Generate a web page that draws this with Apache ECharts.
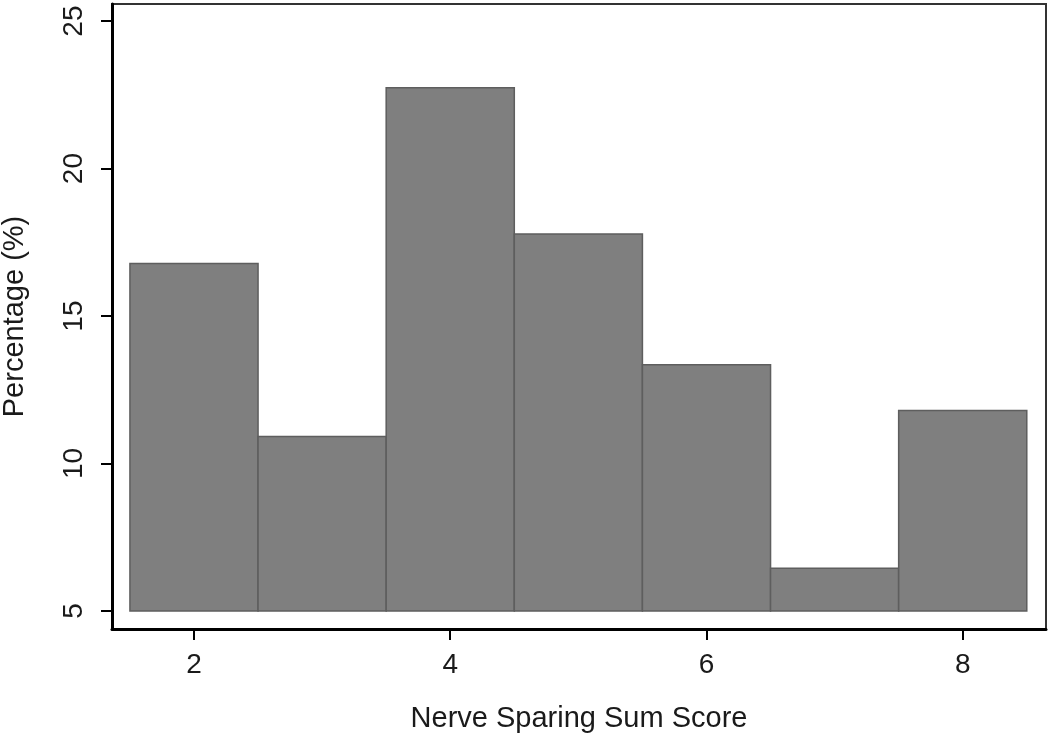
<!DOCTYPE html>
<html>
<head>
<meta charset="utf-8">
<script src="https://cdn.jsdelivr.net/npm/echarts@6/dist/echarts.min.js"></script>
<style>
  html, body { margin: 0; padding: 0; background: #fff; }
  #chart { width: 1050px; height: 739px; }
</style>
</head>
<body>
<div id="chart"></div>
<script>
// histogram bins: score value (bin centre), percentage
const scores = [2, 3, 4, 5, 6, 7, 8];
const percents = [16.78, 10.92, 22.74, 17.78, 13.35, 6.45, 11.8];
const xTicks = [2, 4, 6, 8];
const yTicks = [5, 10, 15, 20, 25];
const baseValue = 5;

const binData = scores.map((s, i) => [s - 0.5, s + 0.5, percents[i]]);

const font = 'Liberation Sans, Arial, sans-serif';
const textColor = '#1a1a1a';

const myChart = echarts.init(document.getElementById('chart'));
myChart.setOption({
  animation: false,
  grid: {
    left: 112,
    top: 4,
    right: 4,
    bottom: 110,
    outerBoundsMode: 'none',
    containLabel: false,
    show: true,
    borderColor: '#333',
    borderWidth: 2,
  },
  xAxis: {
    type: 'value',
    min: 1.36,
    max: 8.65,
    name: 'Nerve Sparing Sum Score',
    nameLocation: 'middle',
    nameGap: 75,
    nameTextStyle: { fontFamily: font, fontSize: 29, color: textColor },
    splitLine: { show: false },
    axisLine: { show: true, lineStyle: { color: '#000', width: 3 } },
    axisTick: {
      show: true,
      length: 11,
      customValues: xTicks,
      lineStyle: { color: '#000', width: 2 },
    },
    axisLabel: {
      customValues: xTicks,
      margin: 22,
      fontFamily: font,
      fontSize: 28,
      color: textColor,
    },
  },
  yAxis: {
    type: 'value',
    min: 4.39,
    max: 25.58,
    name: 'Percentage (%)',
    nameLocation: 'middle',
    nameGap: 83,
    nameRotate: 90,
    nameTextStyle: { fontFamily: font, fontSize: 29, color: textColor },
    splitLine: { show: false },
    axisLine: { show: true, lineStyle: { color: '#000', width: 3 } },
    axisTick: {
      show: true,
      length: 11,
      customValues: yTicks,
      lineStyle: { color: '#000', width: 2 },
    },
    axisLabel: {
      customValues: yTicks,
      rotate: 90,
      margin: 24,
      fontFamily: font,
      fontSize: 28,
      color: textColor,
    },
  },
  series: [
    {
      type: 'custom',
      data: binData,
      renderItem: function (params, api) {
        const p0 = api.coord([api.value(0), baseValue]);
        const p1 = api.coord([api.value(1), api.value(2)]);
        return {
          type: 'rect',
          shape: {
            x: p0[0],
            y: p1[1],
            width: p1[0] - p0[0],
            height: p0[1] - p1[1],
          },
          style: {
            fill: '#7f7f7f',
            stroke: '#5e5e5e',
            lineWidth: 1.5,
          },
        };
      },
    },
  ],
});
</script>
</body>
</html>
